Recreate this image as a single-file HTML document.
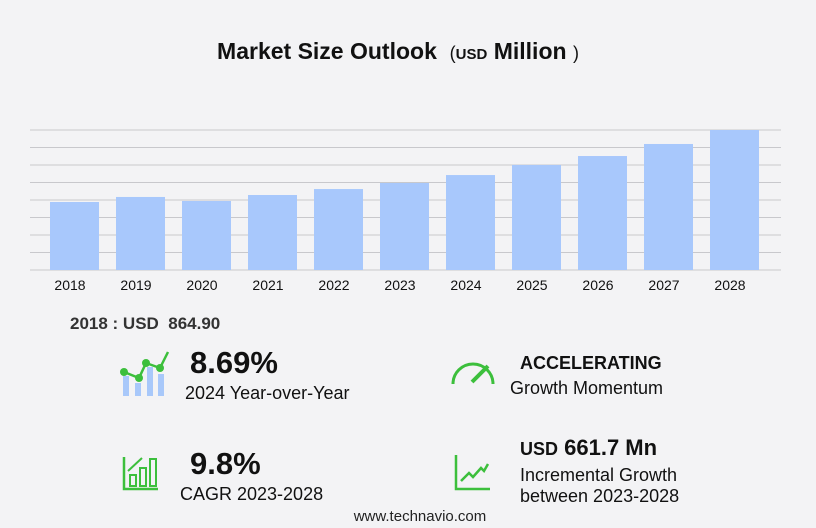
<!DOCTYPE html>
<html><head><meta charset="utf-8"><style>
body{margin:0;width:816px;height:528px;background:#f3f3f5;font-family:"Liberation Sans",sans-serif;overflow:hidden;position:relative}
.t{position:absolute;white-space:nowrap;color:#111}
</style></head><body>
<div class="t" style="left:0;width:796px;text-align:center;top:38px;font-size:23px;font-weight:bold">Market Size Outlook &nbsp;<span style="font-weight:normal;font-size:18px">(</span><span style="font-size:15px">USD</span> Million <span style="font-weight:normal;font-size:18px">)</span></div>
<svg id="chart" width="816" height="300" style="position:absolute;left:0;top:0"></svg>
<div class="t" style="left:70px;top:314px;font-size:17px;font-weight:bold;color:#333">2018 : USD&nbsp; 864.90</div>

<svg style="position:absolute;left:118px;top:350px" width="52" height="48">
<rect x="5" y="26" width="6" height="20" fill="#a8c8fa"/><rect x="17" y="33" width="6" height="13" fill="#a8c8fa"/><rect x="29" y="17" width="6" height="29" fill="#a8c8fa"/><rect x="40" y="24" width="6" height="22" fill="#a8c8fa"/>
<polyline points="6,22 21,28 28,13 42,18 50,2" fill="none" stroke="#3cbf3c" stroke-width="2.5"/>
<circle cx="6" cy="22" r="4" fill="#3cbf3c"/><circle cx="21" cy="28" r="4" fill="#3cbf3c"/><circle cx="28" cy="13" r="4" fill="#3cbf3c"/><circle cx="42" cy="18" r="4" fill="#3cbf3c"/></svg>
<div class="t" style="left:190px;top:345px;font-size:31px;font-weight:bold">8.69%</div>
<div class="t" style="left:185px;top:383px;font-size:18px">2024 Year-over-Year</div>

<svg style="position:absolute;left:450px;top:360px" width="46" height="26">
<path d="M3,24 A20,20 0 0 1 43,24" fill="none" stroke="#3cbf3c" stroke-width="3"/>
<line x1="22" y1="22" x2="38" y2="6" stroke="#3cbf3c" stroke-width="4"/></svg>
<div class="t" style="left:520px;top:353px;font-size:18px;font-weight:bold">ACCELERATING</div>
<div class="t" style="left:510px;top:378px;font-size:18px">Growth Momentum</div>

<svg style="position:absolute;left:122px;top:455px" width="38" height="36">
<path d="M2,2 V34 H36" fill="none" stroke="#3cbf3c" stroke-width="2.5"/>
<rect x="8" y="20" width="6" height="11" fill="none" stroke="#3cbf3c" stroke-width="2"/><rect x="18" y="13" width="6" height="18" fill="none" stroke="#3cbf3c" stroke-width="2"/><rect x="28" y="4" width="6" height="27" fill="none" stroke="#3cbf3c" stroke-width="2"/>
<line x1="6" y1="16" x2="20" y2="3" stroke="#3cbf3c" stroke-width="2"/></svg>
<div class="t" style="left:190px;top:446px;font-size:31px;font-weight:bold">9.8%</div>
<div class="t" style="left:180px;top:484px;font-size:18px">CAGR 2023-2028</div>

<svg style="position:absolute;left:454px;top:455px" width="38" height="36">
<path d="M2,0 V34 H36" fill="none" stroke="#3cbf3c" stroke-width="2.5"/>
<polyline points="7,26 15,18 19,22 27,13 30,16 34,9" fill="none" stroke="#3cbf3c" stroke-width="2.5"/></svg>
<div class="t" style="left:520px;top:435px;font-size:22px;font-weight:bold"><span style="font-size:18px">USD</span> 661.7 Mn</div>
<div class="t" style="left:520px;top:465px;font-size:18px;line-height:21px">Incremental Growth<br>between 2023-2028</div>
<div class="t" style="left:0;width:840px;text-align:center;top:508px;font-size:15px;color:#222">www.technavio.com</div>
<script>
const years=["2018","2019","2020","2021","2022","2023","2024","2025","2026","2027","2028"];
const values=[864.9,929,878,954,1030,1107,1208,1336,1450,1603,1781];
const yMax=1781;
const svg=document.getElementById('chart');const NS="http://www.w3.org/2000/svg";
const base=270,top0=130;
const y=v=>base-(v/yMax)*(base-top0);
const x=i=>50+66*i;
for(let k=0;k<=8;k++){const l=document.createElementNS(NS,'line');const yy=base-k*(base-top0)/8;
l.setAttribute('x1',30);l.setAttribute('x2',781);l.setAttribute('y1',yy);l.setAttribute('y2',yy);l.setAttribute('stroke','#c8c8cc');l.setAttribute('stroke-width','1');


svg.appendChild(l);}
values.forEach((v,i)=>{const r=document.createElementNS(NS,'rect');
r.setAttribute('x',x(i));r.setAttribute('width',49);r.setAttribute('y',y(v));r.setAttribute('height',base-y(v));r.setAttribute('fill','#a8c8fc');


svg.appendChild(r);
const t=document.createElementNS(NS,'text');t.setAttribute('x',x(i)+20);t.setAttribute('y',290);t.setAttribute('text-anchor','middle');t.setAttribute('font-size','14');t.setAttribute('fill','#111');t.setAttribute('font-family','Liberation Sans, sans-serif');t.textContent=years[i];


svg.appendChild(t);});
</script>
</body></html>
